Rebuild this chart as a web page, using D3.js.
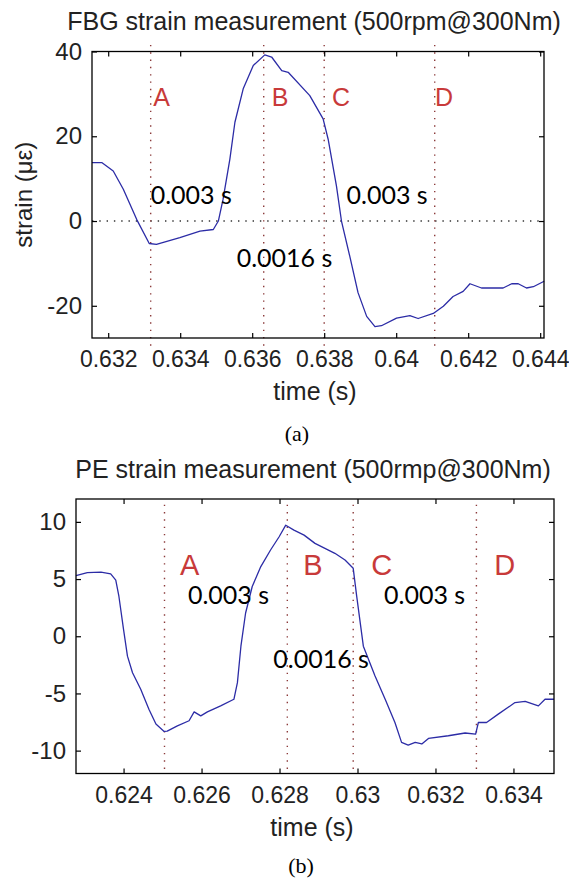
<!DOCTYPE html>
<html><head><meta charset="utf-8">
<script src="https://cdn.jsdelivr.net/npm/d3@7"></script>
<style>body{margin:0;background:#fff}svg{display:block;background:#fff}</style>
</head><body><svg id="c" width="569" height="880"></svg>
<script>
// ---------- data: panel (a) FBG ----------
const fbgTime = [0.63155,0.63182,0.63214,0.63242,0.63279,0.63314,0.63334,0.63399,0.63455,0.63492,0.63506,0.63519,0.63538,0.63552,0.63575,0.63603,0.63635,0.63654,0.63682,0.63700,0.63760,0.63797,0.63811,0.63834,0.63848,0.63871,0.63894,0.63918,0.63941,0.63959,0.64001,0.64038,0.64061,0.64103,0.64131,0.64158,0.64186,0.64205,0.64237,0.64297,0.64321,0.64339,0.64362,0.64381,0.64411];
const fbgStrain = [13.8,13.8,11.8,7.5,0.4,-5.3,-5.5,-3.9,-2.4,-2.0,0.0,5.1,14.6,23.3,31.2,36.7,39.2,38.7,35.5,35.1,29.6,24.1,19.3,8.3,0.0,-8.3,-16.9,-22.5,-24.9,-24.7,-22.9,-22.3,-23.0,-21.8,-20.1,-17.8,-16.6,-14.8,-15.8,-15.8,-14.8,-14.8,-15.8,-15.5,-14.2];
const fbgXTicks = [0.632,0.634,0.636,0.638,0.640,0.642,0.644];
const fbgXTickLabels = ["0.632","0.634","0.636","0.638","0.64","0.642","0.644"];
const fbgYTicks = [-20,0,20,40];
const fbgYTickLabels = ["-20","0","20","40"];
const fbgMarkerTime = [0.63318,0.63632,0.63800,0.64107];
const fbgMarkerLabelTime = [0.63325,0.63654,0.63822,0.64108];
const fbgIntervalTime = [0.63318,0.63557,0.63862];
const fbgIntervalY = [3.95,-10.96,3.95];

// ---------- data: panel (b) PE ----------
const peTime = [0.62278,0.62307,0.62342,0.62367,0.62380,0.62388,0.62400,0.62410,0.62423,0.62444,0.62465,0.62483,0.62504,0.62512,0.62538,0.62568,0.62581,0.62598,0.62615,0.62649,0.62683,0.62692,0.62701,0.62713,0.62730,0.62752,0.62777,0.62799,0.62816,0.62837,0.62863,0.62891,0.62942,0.62968,0.62989,0.62998,0.63015,0.63045,0.63071,0.63096,0.63113,0.63130,0.63148,0.63165,0.63182,0.63233,0.63276,0.63303,0.63310,0.63331,0.63361,0.63404,0.63430,0.63464,0.63481,0.63504];
const peStrain = [5.3,5.57,5.6,5.45,4.9,3.5,0.58,-1.74,-3.19,-4.64,-6.38,-7.68,-8.32,-8.3,-7.83,-7.39,-6.61,-6.96,-6.61,-6.09,-5.51,-4.06,-0.87,2.03,4.35,6.09,7.54,8.7,9.71,9.28,8.84,8.12,7.25,6.67,5.94,3.48,-0.87,-3.48,-5.51,-7.54,-9.28,-9.51,-9.28,-9.42,-8.93,-8.70,-8.46,-8.55,-7.54,-7.54,-6.81,-5.8,-5.7,-6.09,-5.51,-5.51];
const peXTicks = [0.624,0.626,0.628,0.630,0.632,0.634];
const peXTickLabels = ["0.624","0.626","0.628","0.63","0.632","0.634"];
const peYTicks = [-10,-5,0,5,10];
const peYTickLabels = ["-10","-5","0","5","10"];
const peMarkerTime = [0.62505,0.62820,0.62989,0.63305];
const peMarkerLabelTime = [0.62545,0.62861,0.63035,0.63351];
const peIntervalTime = [0.62565,0.62784,0.63068];
const peIntervalY = [2.78,-2.78,2.78];

const markerNames = ["A","B","C","D"];
const intervalTexts = ["0.003 s","0.0016 s","0.003 s"];

// ---------- drawing ----------
const svg = d3.select("#c");
const SANS = "'Liberation Sans', Arial, Helvetica, sans-serif";
const TXT = "#222";

function panel(o){
  const g = svg.append("g");
  const x = d3.scaleLinear().domain(o.xDomain).range([o.left, o.right]);
  const y = d3.scaleLinear().domain(o.yDomain).range([o.bottom, o.top]);

  if (o.zeroLine) {
    g.append("line").attr("x1", o.left).attr("x2", o.right)
      .attr("y1", y(0)).attr("y2", y(0))
      .attr("stroke", "#333").attr("stroke-width", 1.4)
      .attr("stroke-dasharray", "1.4,5.9");
  }
  g.selectAll(".mk").data(o.markers).join("line")
    .attr("x1", d => x(d)).attr("x2", d => x(d))
    .attr("y1", y(o.markerSpan[0])).attr("y2", y(o.markerSpan[1]))
    .attr("stroke", "#8c3b3b").attr("stroke-width", 1.4)
    .attr("stroke-dasharray", "1.4,5.9");

  const pts = o.t.map((t,i)=>[t, o.v[i]]);
  g.append("path").datum(pts)
    .attr("d", d3.line().x(d=>x(d[0])).y(d=>y(d[1])))
    .attr("fill","none").attr("stroke","#2c2ca6").attr("stroke-width",1.3)
    .attr("stroke-linejoin","round");

  const ax = (gen, tr, fs) => {
    const a = g.append("g").attr("transform", tr).call(gen);
    a.select(".domain").remove();
    a.selectAll("line").attr("stroke","#000").attr("stroke-width",1.2);
    a.selectAll("text").attr("font-family", SANS).attr("font-size", fs).attr("fill", TXT);
    return a;
  };
  ax(d3.axisBottom(x).tickValues(o.xTicks).tickSizeInner(-5).tickSizeOuter(0).tickPadding(13)
      .tickFormat((d,i)=>o.xLabels[i]), `translate(0,${o.bottom})`, 23);
  ax(d3.axisTop(x).tickValues(o.xTicks).tickSizeInner(-5).tickSizeOuter(0).tickFormat(""),
      `translate(0,${o.top})`, 23);
  ax(d3.axisLeft(y).tickValues(o.yTicks).tickSizeInner(-5).tickSizeOuter(0).tickPadding(10)
      .tickFormat((d,i)=>o.yLabels[i]), `translate(${o.left},0)`, 24);
  ax(d3.axisRight(y).tickValues(o.yTicks).tickSizeInner(-5).tickSizeOuter(0).tickFormat(""),
      `translate(${o.right},0)`, 24);

  g.append("rect").attr("x", o.left).attr("y", o.top)
    .attr("width", o.right-o.left).attr("height", o.bottom-o.top)
    .attr("fill","none").attr("stroke","#000").attr("stroke-width",1.3);

  g.selectAll(".ml").data(o.markerLabels).join("text")
    .attr("x", d=>x(d)).attr("y", y(o.markerLabelY))
    .attr("font-family", SANS).attr("font-size", o.letterFont)
    .attr("fill","#c83a3a").text((d,i)=>markerNames[i]);

  g.selectAll(".iv").data(o.intervals).join("text")
    .attr("x", d=>x(d)).attr("y", (d,i)=>y(o.intervalY[i]))
    .attr("font-family","Lato, 'Open Sans', Calibri, sans-serif").attr("font-size", 25)
    .attr("fill","#000").text((d,i)=>intervalTexts[i]);

  g.append("text").attr("x", o.titleX).attr("y", o.titleY)
    .attr("text-anchor","middle").attr("font-family", SANS).attr("font-size", 25)
    .attr("fill", TXT).text(o.title);
  g.append("text").attr("x", (o.left+o.right)/2 - 3).attr("y", o.xLabelY)
    .attr("text-anchor","middle").attr("font-family", SANS).attr("font-size", 25)
    .attr("fill", TXT).text("time (s)");
  if (o.yLabel) {
    g.append("text").attr("transform", `translate(32,${(o.top+o.bottom)/2}) rotate(-90)`)
      .attr("text-anchor","middle").attr("font-family", SANS).attr("font-size", 24)
      .attr("fill", TXT).text(o.yLabel);
  }
  g.append("text").attr("x", o.capX).attr("y", o.capY)
    .attr("text-anchor","middle").attr("font-family","'Liberation Serif', 'Times New Roman', serif")
    .attr("font-size", 22).attr("fill","#000").text(o.caption);
}

panel({
  t: fbgTime, v: fbgStrain,
  xDomain: [0.63155, 0.644106], yDomain: [-27.6, 40],
  left: 92, right: 544, top: 51.5, bottom: 338,
  xTicks: fbgXTicks, xLabels: fbgXTickLabels, yTicks: fbgYTicks, yLabels: fbgYTickLabels,
  markers: fbgMarkerTime, markerSpan: [-29.4, 42],
  markerLabels: fbgMarkerLabelTime, markerLabelY: 27.1, letterFont: 25,
  intervals: fbgIntervalTime, intervalY: fbgIntervalY,
  zeroLine: true,
  title: "FBG strain measurement (500rpm@300Nm)", titleX: 314, titleY: 29.5,
  xLabelY: 400, yLabel: "strain (\u03bc\u03b5)",
  caption: "(a)", capX: 297, capY: 441
});

panel({
  t: peTime, v: peStrain,
  xDomain: [0.62278, 0.63504], yDomain: [-12, 12],
  left: 76, right: 554, top: 499, bottom: 773.5,
  xTicks: peXTicks, xLabels: peXTickLabels, yTicks: peYTicks, yLabels: peYTickLabels,
  markers: peMarkerTime, markerSpan: [-11.6, 11.7],
  markerLabels: peMarkerLabelTime, markerLabelY: 5.39, letterFont: 29,
  intervals: peIntervalTime, intervalY: peIntervalY,
  zeroLine: false,
  title: "PE strain measurement (500rmp@300Nm)", titleX: 313, titleY: 477.5,
  xLabelY: 836, yLabel: null,
  caption: "(b)", capX: 301, capY: 873
});
</script></body></html>
